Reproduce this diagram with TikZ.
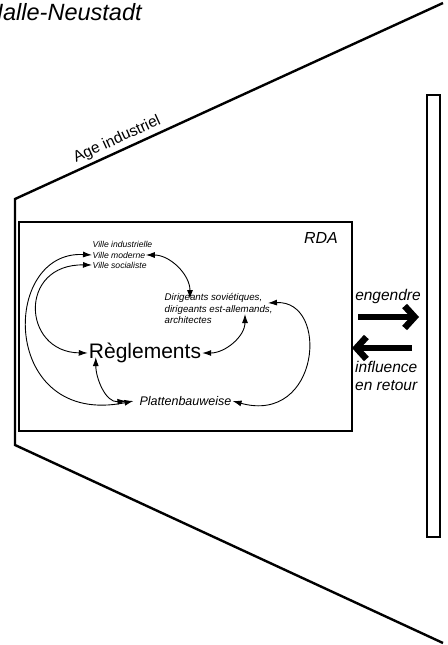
\documentclass[tikz,border=0pt]{standalone}
\usepackage{fontspec}
\setmainfont{Liberation Sans}
\usetikzlibrary{arrows.meta}

\begin{document}
\begin{tikzpicture}[x=1pt,y=-1pt,
	frame/.style={line width=2.4pt},
	link/.style={{Latex[length=9pt,width=6pt]}-{Latex[length=9pt,width=6pt]}, line width=0.9pt},
	bigarrow/.style={-{Straight Barb[length=10pt,width=22pt]}, line width=6.5pt},
	ville/.style={font=\itshape\fontsize{8.6}{10}\selectfont, inner sep=0.5pt, anchor=west},
	label/.style={font=\itshape\fontsize{15.5}{18}\selectfont, inner sep=0pt}]
	\useasboundingbox (0,0) rectangle (447,645);
	\node[anchor=base west, inner sep=0pt, font=\itshape\fontsize{23.5}{27}\selectfont] (titre) at (-14,20) {Halle-Neustadt};
	\draw[frame, line join=miter] (443,3) -- (15,199) -- (15,445) -- (443,643);
	\path (15,199) -- (443,3) node[pos=0.25, sloped, above=4pt, inner sep=0pt, font=\fontsize{15.5}{18}\selectfont] (age) {Age industriel};
	\node[draw, frame, minimum width=333pt, minimum height=209pt, inner sep=0pt] (rda) at (185.5,326.5) {};
	\node[draw, line width=2pt, minimum width=13pt, minimum height=442pt, inner sep=0pt] (ext) at (433,316) {};
	\node[anchor=north east, inner sep=0pt, font=\itshape\fontsize{16}{19}\selectfont] (rdalbl) at (338,232) {RDA};
	\node[ville] (vi) at (92,244) {Ville industrielle};
	\node[ville] (vm) at (92,255) {Ville moderne};
	\node[ville] (vs) at (92,265) {Ville socialiste};
	\node[anchor=north west, align=left, inner sep=0.5pt, font=\itshape\fontsize{9.7}{11.5}\selectfont] (dir) at (164,293) {Dirigeants soviétiques,\\dirigeants est-allemands,\\architectes};
	\node[inner sep=1pt, font=\fontsize{21}{24}\selectfont] (reg) at (145,353) {Règlements};
	\node[inner sep=1pt, font=\itshape\fontsize{12.5}{15}\selectfont] (pla) at (185.5,401) {Plattenbauweise};
	\draw[link] (vm.east) to[out=0, in=90] ([xshift=26pt,yshift=-6pt]dir.north west);
	\draw[link] (vm.west) .. controls (0,250) and (0,428) .. ([xshift=-5pt]pla.west);
	\draw[link] (vs.west) .. controls (18,264) and (22,352) .. (reg.west);
	\draw[link] (reg.east) to[out=0, in=270] ([xshift=81pt,yshift=-21pt]dir.north west);
	\draw[link] (pla.east) .. controls (320,425) and (330,300) .. ([xshift=104pt,yshift=-10pt]dir.north west);
	\draw[link] ([xshift=8pt,yshift=7pt]reg.south west) to[out=270, in=185] ([xshift=-12pt]pla.west);
	\node[label] (eng) at (388,296) {engendre};
	\coordinate (g1) at (358,317);
	\coordinate (g2) at (419,317);
	\draw[bigarrow] (g1) -- (g2);
	\coordinate (r1) at (412,348);
	\coordinate (r2) at (352,348);
	\draw[bigarrow] (r1) -- (r2);
	\node[label, anchor=north west, align=left] (infl) at (355,361) {influence\\en retour};
\end{tikzpicture}
\end{document}
